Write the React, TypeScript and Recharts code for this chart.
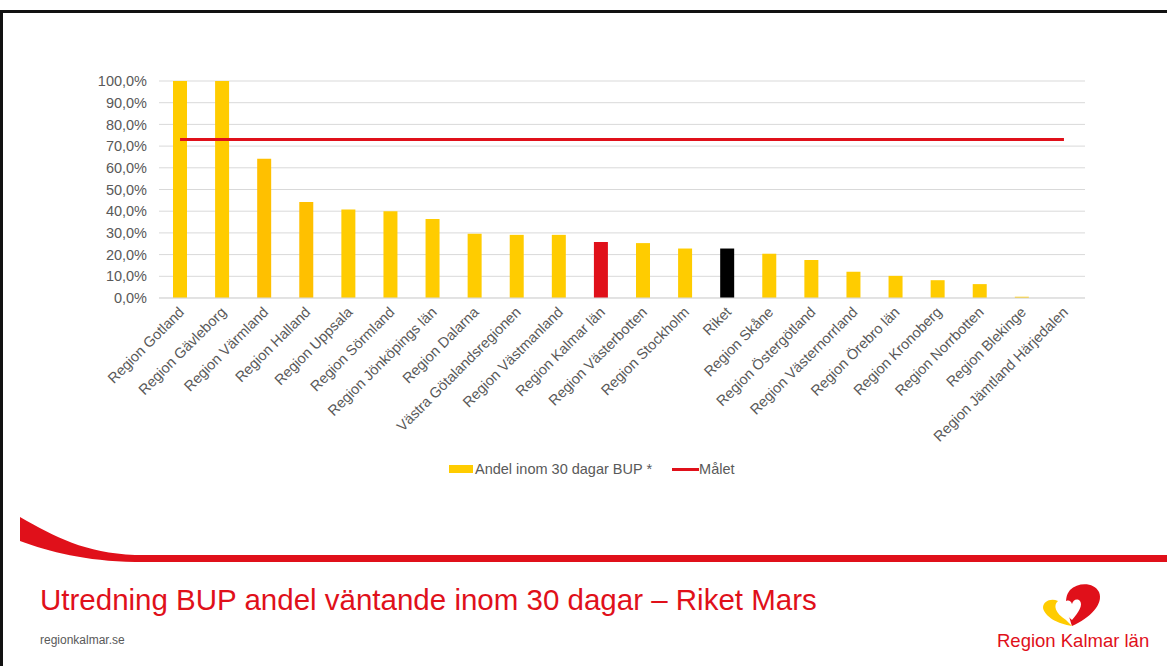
import { ComposedChart, Bar, Line, Cell, XAxis, YAxis, CartesianGrid, Legend } from 'recharts';

const categories = [
    'Region Gotland',
    'Region Gävleborg',
    'Region Värmland',
    'Region Halland',
    'Region Uppsala',
    'Region Sörmland',
    'Region Jönköpings län',
    'Region Dalarna',
    'Västra Götalandsregionen',
    'Region Västmanland',
    'Region Kalmar län',
    'Region Västerbotten',
    'Region Stockholm',
    'Riket',
    'Region Skåne',
    'Region Östergötland',
    'Region Västernorrland',
    'Region Örebro län',
    'Region Kronoberg',
    'Region Norrbotten',
    'Region Blekinge',
    'Region Jämtland Härjedalen',
];

// Andel inom 30 dagar BUP * (%)
const andelValues = [100, 100, 64.2, 44.2, 40.8, 40.0, 36.4, 29.6, 29.1, 29.1, 25.8, 25.3, 22.8, 22.8, 20.4, 17.5, 12.1, 10.2, 8.2, 6.4, 0.6, 0];

// Målet (%)
const maletValues = [73, 73, 73, 73, 73, 73, 73, 73, 73, 73, 73, 73, 73, 73, 73, 73, 73, 73, 73, 73, 73, 73];

const yTicks = [0, 10, 20, 30, 40, 50, 60, 70, 80, 90, 100];

const data = categories.map((name, i) => ({
    name,
    andel: andelValues[i],
    malet: maletValues[i],
}));

const YELLOW = '#FFCC00';
const RED = '#E0101A';
const TEXT = '#595959';

const BAR_COLORS: Record<string, string> = {
    'Region Värmland': '#FFC000',
    'Region Halland': '#FFC000',
    'Region Kalmar län': RED,
    Riket: '#000000',
};

const formatPct = (v: number) => `${v.toFixed(1).replace('.', ',')}%`;

// eslint-disable-next-line @typescript-eslint/no-explicit-any
const AngledTick = (props: any) => {
    const { x, y, payload } = props;
    const ax = x + 5;
    const ay = y + 15;
    return (
        <text
            x={ax}
            y={ay}
            transform={`rotate(-45, ${ax}, ${ay})`}
            textAnchor="end"
            fontSize={14.5}
            fill={TEXT}
        >
            {payload.value}
        </text>
    );
};

const renderLegend = () => (
    <div style={{ display: 'flex', alignItems: 'center', height: 22, fontSize: 14.5, color: TEXT }}>
        <span style={{ display: 'inline-block', width: 24, height: 8, background: YELLOW, marginRight: 2 }} />
        <span>Andel inom 30 dagar BUP *</span>
        <span style={{ display: 'inline-block', width: 27, height: 3, background: RED, marginLeft: 20 }} />
        <span>Målet</span>
    </div>
);

export default function App() {
    return (
        <div
            style={{
                position: 'fixed',
                left: 0,
                top: 0,
                width: 1167,
                height: 666,
                background: '#fff',
                overflow: 'hidden',
                fontFamily: '"Liberation Sans", Arial, sans-serif',
            }}
        >
            <svg width={1167} height={666} style={{ position: 'absolute', left: 0, top: 0 }}>
                {/* slide frame */}
                <rect x={0} y={10} width={1167} height={3} fill="#111" />
                <rect x={0} y={10} width={3} height={656} fill="#111" />
                {/* red swoosh */}
                <path
                    d="M20,517 C55,537 85,553 135,555 L1167,555 L1167,562 L135,562 C85,561 50,552 20,541 Z"
                    fill={RED}
                />
                <text x={40} y={610} fontSize={29.5} fill={RED}>
                    Utredning BUP andel väntande inom 30 dagar – Riket Mars
                </text>
                <text x={40} y={644} fontSize={12} fill={TEXT}>
                    regionkalmar.se
                </text>
                {/* logo: red blob with white heart, yellow crescent */}
                <path
                    d="M1072,626 C1068,612 1062,600 1070,590 C1078,582 1094,582 1099,592 C1104,604 1090,618 1072,626 Z"
                    fill={RED}
                />
                <path
                    d="M1072,620 C1064,613 1061,606 1065,602 C1068,599 1071,601 1072,604 C1073,600 1077,598 1080,601 C1083,605 1079,612 1072,620 Z"
                    fill="#fff"
                />
                <path
                    d="M1072,626 C1058,624 1045,617 1043,608 C1043,601 1051,598 1058,601 C1053,605 1055,613 1066,620 Z"
                    fill={YELLOW}
                />
                <text x={997} y={647} fontSize={18.5} fill={RED}>
                    Region Kalmar län
                </text>
            </svg>
            <div style={{ position: 'absolute', left: 0, top: 0 }}>
                <ComposedChart
                    width={1167}
                    height={500}
                    data={data}
                    margin={{ top: 81, right: 82, left: 0, bottom: 20 }}
                >
                    <CartesianGrid vertical={false} stroke="#D9D9D9" />
                    <XAxis
                        dataKey="name"
                        interval={0}
                        tickLine={false}
                        tickSize={0}
                        tickMargin={0}
                        axisLine={{ stroke: '#D9D9D9' }}
                        tick={<AngledTick />}
                        height={160}
                    />
                    <YAxis
                        domain={[0, 100]}
                        ticks={yTicks}
                        interval={0}
                        tickFormatter={formatPct}
                        axisLine={false}
                        tickLine={false}
                        tickSize={0}
                        tickMargin={12}
                        width={159}
                        tick={{ fill: TEXT, fontSize: 14.5 }}
                    />
                    <Bar dataKey="andel" barSize={14} isAnimationActive={false}>
                        {data.map((entry, index) => (
                            <Cell key={`cell-${index}`} fill={BAR_COLORS[entry.name] || YELLOW} />
                        ))}
                    </Bar>
                    <Line
                        dataKey="malet"
                        stroke={RED}
                        strokeWidth={3}
                        dot={false}
                        activeDot={false}
                        isAnimationActive={false}
                    />
                    <Legend
                        verticalAlign="bottom"
                        height={22}
                        content={renderLegend}
                        wrapperStyle={{ left: 449, width: 400 }}
                    />
                </ComposedChart>
            </div>
        </div>
    );
}
